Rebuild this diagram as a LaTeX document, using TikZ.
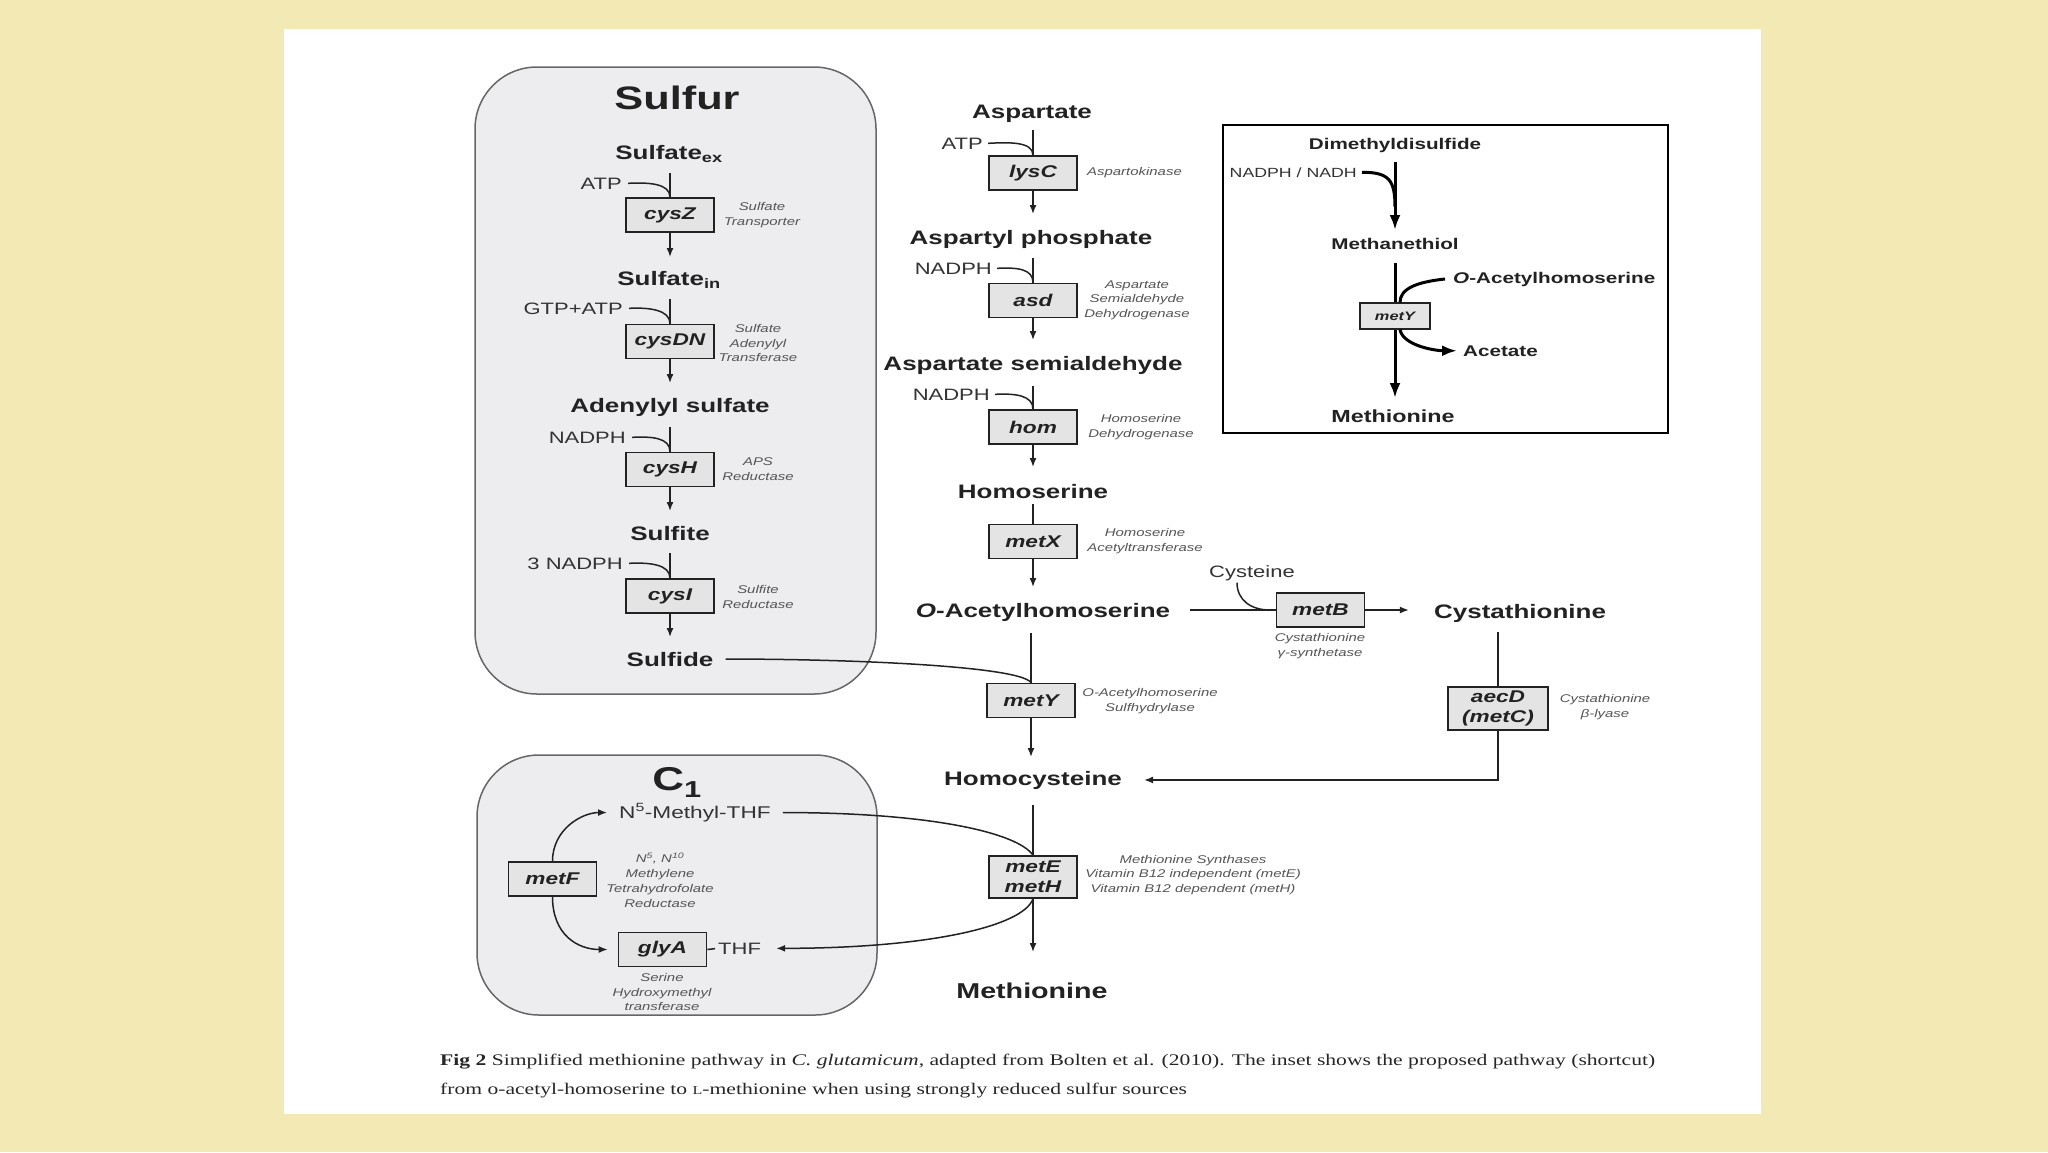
\documentclass[tikz,border=0pt]{standalone}
\usepackage{fontspec}
\usetikzlibrary{arrows.meta}
\newfontfamily\lab[FakeStretch=1.333]{Liberation Sans}
\newfontfamily\capf[FakeStretch=1.333]{Liberation Serif}
\definecolor{bgyellow}{HTML}{F3E9B5}
\definecolor{panelgray}{HTML}{EDEDF0}
\definecolor{boxgray}{HTML}{E4E4E4}
\definecolor{ink}{HTML}{222222}
\definecolor{desccol}{HTML}{555555}
\tikzset{
 met/.style={font=\lab\bfseries\fontsize{19.5}{22}\selectfont, inner sep=0pt, anchor=base, text=ink},
 smet/.style={font=\lab\bfseries\fontsize{15.5}{18}\selectfont, inner sep=0pt, anchor=base, text=ink},
 cof/.style={font=\lab\fontsize{16.5}{19}\selectfont, inner sep=0pt, anchor=base east, text=black!80},
 enz/.style={draw=ink, line width=1.6pt, fill=boxgray, minimum width=88pt, minimum height=34pt, inner sep=0pt, font=\lab\bfseries\itshape\fontsize{17}{20}\selectfont, text=ink, align=center},
 desc/.style={font=\lab\itshape\fontsize{11.2}{14.5}\selectfont, text=desccol, align=center, inner sep=0pt},
 ln/.style={draw=ink, line width=1.5pt},
 arr/.style={ln, -{Latex[length=9pt,width=7pt]}},
 bln/.style={draw=black, line width=3pt},
 barr/.style={bln, -{Latex[length=15pt,width=11pt]}},
 region/.style={draw=black!60, line width=1.5pt, fill=panelgray, rounded corners=62pt},
}
\begin{document}
\begin{tikzpicture}[x=1pt,y=-1pt]
\useasboundingbox (0,0) rectangle (2048,1152);
\fill[bgyellow] (0,0) rectangle (2048,1152);
\fill[white] (284,29) rectangle (1761,1114);

% regions
\draw[region] (475,67) rectangle (876,694);
\draw[region] (477,755) rectangle (877,1015);

% ---------------- Sulfur column ----------------
\node[met, font=\lab\bfseries\fontsize{32.5}{36}\selectfont] (sulfur) at (677,109) {Sulfur};
\node[met] (sex) at (669,159) {Sulfate\textsubscript{ex}};
\node[cof] (atp1) at (622,189) {ATP};
\node[enz] (cysZ) at (670,215) {cysZ};
\node[desc] (dZ) at (762,215) {Sulfate\\Transporter};
\node[met] (sin) at (669,285) {Sulfate\textsubscript{in}};
\node[cof] (gtp) at (623,314) {GTP+ATP};
\node[enz] (cysDN) at (670,341.5) {cysDN};
\node[desc] (dDN) at (758,343) {Sulfate\\Adenylyl\\Transferase};
\node[met] (aps) at (670,412) {Adenylyl sulfate};
\node[cof] (nadph1) at (626,443) {NADPH};
\node[enz] (cysH) at (670,469.5) {cysH};
\node[desc] (dH) at (758,469) {APS\\Reductase};
\node[met] (sulfite) at (670,540) {Sulfite};
\node[cof] (nadph2) at (623,569) {3 NADPH};
\node[enz] (cysI) at (670,596) {cysI};
\node[desc] (dI) at (758,597) {Sulfite\\Reductase};
\node[met] (sulfide) at (670,666) {Sulfide};

\draw[ln] ([yshift=-14pt]sex.base -| cysZ.north) -- (cysZ.north);
\draw[arr] (cysZ.south) -- ([yshift=28pt]sin.base -| cysZ.south);
\draw[ln] ([yshift=-14pt]sin.base -| cysDN.north) -- (cysDN.north);
\draw[arr] (cysDN.south) -- ([yshift=29pt]aps.base);
\draw[ln] ([yshift=-15pt]aps.base) -- (cysH.north);
\draw[arr] (cysH.south) -- ([yshift=29pt]sulfite.base);
\draw[ln] ([yshift=-13pt]sulfite.base) -- (cysI.north);
\draw[arr] (cysI.south) -- ([yshift=29pt]sulfide.base);
\foreach \c/\e in {atp1/cysZ, gtp/cysDN, nadph1/cysH, nadph2/cysI}
  \draw[ln] ([xshift=6pt]\c.east) .. controls +(20,-1) and +(0,-14) .. (\e.north);

% ---------------- Aspartate column ----------------
\node[met] (asp) at (1032,118) {Aspartate};
\node[cof] (atp2) at (983,149) {ATP};
\node[enz] (lysC) at (1033,173) {lysC};
\node[desc, anchor=west] (dlysC) at (1087,173) {Aspartokinase};
\node[met] (aspp) at (1031,244) {Aspartyl phosphate};
\node[cof] (nadph3) at (992,274) {NADPH};
\node[enz] (asd) at (1033,300.5) {asd};
\node[desc] (dasd) at (1137,300) {Aspartate\\Semialdehyde\\Dehydrogenase};
\node[met] (asa) at (1033,370) {Aspartate semialdehyde};
\node[cof] (nadph4) at (990,400) {NADPH};
\node[enz] (hom) at (1033,427) {hom};
\node[desc] (dhom) at (1141,427) {Homoserine\\Dehydrogenase};
\node[met] (hser) at (1033,498) {Homoserine};
\node[enz] (metX) at (1033,541.5) {metX};
\node[desc] (dmetX) at (1145,541) {Homoserine\\Acetyltransferase};
\node[met] (oah) at (1043,617) {\textit{O}-Acetylhomoserine};
\node[enz] (metY) at (1031,700.5) {metY};
\node[desc] (dmetY) at (1150,701) {O-Acetylhomoserine\\Sulfhydrylase};
\node[met] (hcys) at (1033,785) {Homocysteine};
\node[enz, minimum height=42pt] (metEH) at (1033,877) {metE\\metH};
\node[desc] (dmetEH) at (1193,875) {Methionine Synthases\\Vitamin B12 independent (metE)\\Vitamin B12 dependent (metH)};
\node[met, font=\lab\bfseries\fontsize{21.5}{24}\selectfont] (meth) at (1032,998) {Methionine};

\draw[ln] ([yshift=-12pt]asp.base -| lysC.north) -- (lysC.north);
\draw[arr] (lysC.south) -- ([yshift=30pt]aspp.base -| lysC.south);
\draw[ln] ([yshift=-14pt]aspp.base -| asd.north) -- (asd.north);
\draw[arr] (asd.south) -- ([yshift=30pt]asa.base);
\draw[ln] ([yshift=-16pt]asa.base) -- (hom.north);
\draw[arr] (hom.south) -- ([yshift=31pt]hser.base);
\draw[ln] ([yshift=-6pt]hser.base) -- (metX.north);
\draw[arr] (metX.south) -- ([yshift=30pt]oah.base -| metX.south);
\draw[ln] ([yshift=-16pt]oah.base -| metY.north) -- (metY.north);
\draw[arr] (metY.south) -- ([yshift=28pt]hcys.base -| metY.south);
\draw[ln] ([yshift=-20pt]hcys.base) -- (metEH.north);
\draw[arr] (metEH.south) -- ([yshift=46pt]meth.base -| metEH.south);
\foreach \c/\e in {atp2/lysC, nadph3/asd, nadph4/hom}
  \draw[ln] ([xshift=5pt]\c.east) .. controls +(20,-1) and +(0,-14) .. (\e.north);

% ---------------- metB / Cystathionine ----------------
\node[enz] (metB) at (1320.5,610) {metB};
\node[desc] (dmetB) at (1320,646) {Cystathionine\\γ-synthetase};
\node[cof, anchor=base] (cys) at (1252,577) {Cysteine};
\node[met] (cysta) at (1520,618) {Cystathionine};
\node[enz, minimum width=100pt, minimum height=43pt] (aecD) at (1498,708.5) {aecD\\(metC)};
\node[desc] (daecD) at (1605,707) {Cystathionine\\β-lyase};
\coordinate (jcys) at ([xshift=-6pt]metB.west);
\coordinate (cystop) at ([yshift=-14pt]cysta.base);
\coordinate (oahR) at ([xshift=20pt]oah.east);
\coordinate (cystaL) at ([xshift=-25pt]cysta.west);

\draw[ln] (oahR |- metB.west) -- (metB.west);
\draw[ln] ([xshift=-15pt,yshift=-2pt]cys.south) .. controls +(0,18) and +(-18,0) .. (jcys);
\draw[arr] (metB.east) -- (cystaL |- metB.east);
\draw[ln] (cystop -| aecD.north) -- (aecD.north);
\draw[arr] (aecD.south) |- ([xshift=22pt]hcys.east);

% sulfide to metY
\draw[ln] ([xshift=12pt]sulfide.east) .. controls +(135,0) and +(-10,-16) .. (metY.north);

% ---------------- C1 ----------------
\node[met, font=\lab\bfseries\fontsize{33}{36}\selectfont] (c1) at (677,790) {C\textsubscript{1}};
\node[cof, anchor=base, font=\lab\fontsize{17}{19}\selectfont] (n5) at (695,818) {N\textsuperscript{5}-Methyl-THF};
\node[enz] (metF) at (552.5,879) {metF};
\node[desc, font=\lab\itshape\fontsize{11.2}{15}\selectfont] (dmetF) at (660,880) {N\textsuperscript{5}, N\textsuperscript{10}\\Methylene\\Tetrahydrofolate\\Reductase};
\node[enz] (glyA) at (662.5,949.5) {glyA};
\node[cof, anchor=base west] (thf) at (718,954) {THF};
\node[desc] (dglyA) at (662,992) {Serine\\Hydroxymethyl\\transferase};

\draw[ln, shorten >=3pt] (glyA.east) -- (thf.west);
\draw[arr] (metF.north) .. controls +(0,-32) and +(-25,0) .. ([xshift=-12pt]n5.west);
\draw[arr] (metF.south) .. controls +(0,38) and +(-30,0) .. ([xshift=-10pt]glyA.west);
\draw[ln] ([xshift=12pt]n5.east) .. controls +(150,0) and +(-15,-22) .. (metEH.north);
\draw[arr] (metEH.south) .. controls +(-10,28) and +(150,0) .. ([xshift=15pt]thf.east);

% ---------------- Inset ----------------
\draw[line width=2pt, draw=black] (1223,125) rectangle (1668,433);
\node[smet] (dmds) at (1395,149) {Dimethyldisulfide};
\node[cof, font=\lab\fontsize{13.3}{16}\selectfont] (nad) at (1357,177) {NADPH / NADH};
\node[smet] (mt) at (1395,249) {Methanethiol};
\node[met, font=\lab\bfseries\fontsize{17.5}{20}\selectfont] (imet) at (1393,422) {Methionine};
\node[smet, anchor=base west] (ioah) at (1453,283) {\textit{O}-Acetylhomoserine};
\node[smet, anchor=base west] (acet) at (1463,356) {Acetate};
\coordinate (jnad) at (1395,207);
\draw[barr] ([yshift=-13pt]dmds.base) -- ([yshift=19pt]mt.base);
\draw[bln] ([xshift=5pt]nad.east) .. controls +(27,0) and +(0,-27) .. (jnad);
\draw[barr] ([yshift=-14pt]mt.base) -- ([yshift=24pt]imet.base -| mt.base);
\node[enz, minimum width=70pt, minimum height=26pt, line width=1.2pt, font=\lab\bfseries\itshape\fontsize{12.3}{14}\selectfont] (imetY) at (1395,316) {metY};
\draw[bln] ([xshift=-8pt]ioah.west) .. controls +(-28,3) and +(0,-14) .. ([xshift=5pt]imetY.north);
\draw[barr] ([xshift=5pt]imetY.south) .. controls +(3,16) and +(-22,0) .. ([xshift=-6pt]acet.west);

% ---------------- Caption ----------------
\node[anchor=base west, inner sep=0pt, font=\capf\fontsize{16.2}{18}\selectfont, text=black!85] (cap1) at (440,1065) {\textbf{Fig 2} Simplified methionine pathway in \textit{C. glutamicum}, adapted from Bolten et al. (2010). The inset shows the proposed pathway (shortcut)};
\node[anchor=base west, inner sep=0pt, font=\capf\fontsize{16.2}{18}\selectfont, text=black!85] (cap2) at (440,1094) {from o-acetyl-homoserine to {\fontsize{12}{12}\selectfont L}-methionine when using strongly reduced sulfur sources};
\end{tikzpicture}
\end{document}
